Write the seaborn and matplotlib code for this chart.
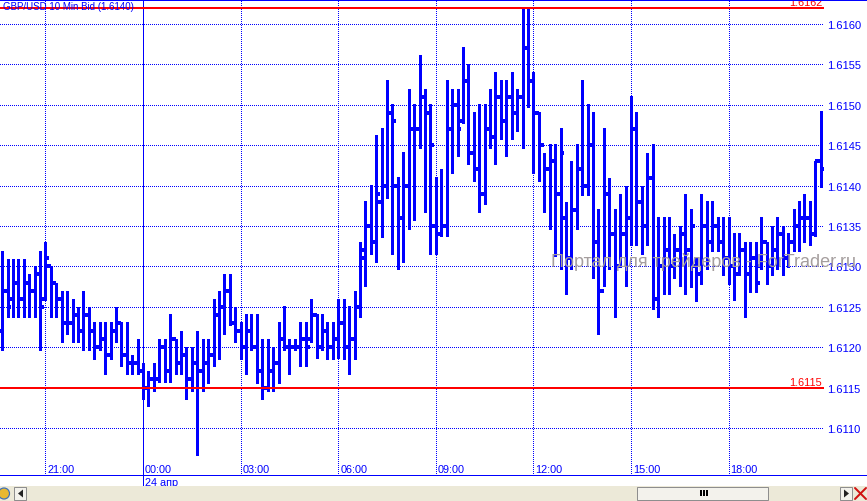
import matplotlib
matplotlib.use("Agg")
import numpy as np
import pandas as pd
import matplotlib.pyplot as plt
import matplotlib.transforms as mtrans
from matplotlib.lines import Line2D
from matplotlib.patches import Rectangle, Polygon
import seaborn as sns

# GBP/USD 10 min bars, 19:40 (23 apr) .. 20:50 (24 apr); prices in pips above 1.6100
base = 1.6100
high = [31.9, 30.9, 30.9, 30.9, 30.9, 29.1, 30.1, 31.9, 33.0, 30.1,
        28.0, 27.0, 27.0, 26.0, 25.0, 27.0, 25.0, 23.1, 23.1, 23.1,
        23.1, 25.0, 23.1, 23.1, 19.0, 21.0, 18.0, 17.1, 18.1, 21.0,
        21.0, 24.1, 21.0, 22.0, 20.0, 20.0, 22.0, 21.0, 21.0, 26.0,
        27.0, 29.1, 29.1, 25.0, 23.1, 24.1, 24.1, 24.1, 21.0, 21.0,
        20.0, 23.1, 25.1, 21.0, 21.0, 23.1, 23.1, 26.0, 24.1, 24.1,
        23.1, 23.1, 26.0, 26.0, 25.1, 27.0, 33.0, 38.1, 40.1, 46.2,
        47.1, 53.1, 50.1, 41.1, 44.1, 52.0, 50.1, 56.2, 52.0, 50.1,
        41.1, 42.1, 53.1, 52.0, 52.0, 57.1, 55.0, 49.1, 50.1, 50.1,
        52.0, 54.0, 53.1, 53.1, 54.0, 52.0, 62.0, 62.0, 54.0, 49.1,
        44.0, 45.1, 45.1, 47.1, 38.0, 43.1, 45.1, 53.1, 50.1, 49.1,
        37.1, 47.1, 41.0, 37.1, 39.0, 40.0, 51.1, 49.1, 40.0, 44.0,
        45.1, 36.1, 36.1, 36.1, 34.0, 35.0, 39.0, 37.1, 31.0, 39.0,
        38.1, 38.1, 36.1, 36.1, 36.1, 34.1, 34.1, 33.0, 33.0, 33.0,
        36.1, 33.0, 35.0, 36.1, 35.0, 34.1, 37.1, 38.1, 39.0, 38.1,
        43.1, 49.2]
low = [19.6, 23.7, 23.7, 23.7, 23.7, 23.7, 23.7, 19.6, 25.8, 23.7,
       23.7, 20.6, 21.6, 20.6, 20.6, 19.6, 19.6, 18.5, 19.6, 16.7,
       18.5, 20.6, 17.7, 16.7, 16.7, 16.7, 13.6, 12.7, 14.6, 15.7,
       15.7, 15.7, 16.7, 16.7, 13.6, 14.6, 6.6, 14.6, 15.6, 17.7,
       18.5, 21.6, 22.7, 20.6, 18.5, 16.7, 19.6, 15.6, 13.6, 14.6,
       14.6, 15.6, 19.6, 16.7, 19.6, 17.7, 17.7, 20.6, 18.7, 19.6,
       18.5, 18.5, 18.7, 18.5, 16.7, 18.5, 23.7, 27.6, 31.5, 30.5,
       33.6, 38.5, 31.5, 29.7, 30.5, 34.6, 35.7, 44.7, 36.7, 31.5,
       31.5, 33.8, 33.8, 41.6, 43.7, 47.8, 42.7, 40.6, 36.7, 37.7,
       44.7, 42.7, 45.8, 43.7, 45.8, 46.8, 44.7, 49.7, 41.6, 40.6,
       36.7, 34.6, 31.3, 29.7, 26.6, 29.7, 34.6, 38.8, 38.8, 28.6,
       21.6, 27.6, 29.7, 23.7, 29.9, 27.6, 32.6, 32.6, 31.5, 32.6,
       24.7, 23.7, 26.6, 26.6, 28.6, 27.6, 26.6, 27.5, 25.7, 27.8,
       29.7, 31.9, 31.9, 28.9, 27.8, 25.8, 28.9, 23.7, 26.8, 26.8,
       29.7, 27.8, 28.9, 29.7, 28.9, 29.9, 31.9, 31.9, 33.0, 32.6,
       33.8, 39.8]
opn = [22, 27, 26, 28, 26, 28, 27, 29, 26, 30,
       28, 26, 23, 23, 24, 22, 24, 22, 20, 21,
       19, 22, 23, 19, 18, 18, 17, 15, 16, 16,
       20, 17, 21, 18, 19, 16, 18, 17, 18, 19,
       24, 25, 27, 23, 22, 20, 22, 20, 17, 15,
       17, 18, 21, 20, 20, 20, 21, 21, 24, 20,
       22, 20, 21, 23, 20, 21, 25, 31, 35, 33,
       38, 40, 49, 40, 36, 40, 47, 47, 51, 49,
       35, 34, 35, 47, 50, 48, 53, 44, 42, 39,
       47, 46, 51, 48, 51, 49, 51, 57, 53, 49,
       45, 42, 43, 39, 36, 31, 37, 42, 40, 45,
       33, 27, 39, 34, 30, 34, 36, 47, 38, 35,
       41, 26, 30, 32, 30, 32, 34, 32, 30, 29,
       35, 33, 35, 33, 31, 30, 29, 32, 29, 31,
       30, 33, 30, 32, 34, 31, 33, 35, 36, 36,
       34, 43]
close = [27, 25, 28, 26, 28, 27, 29, 25, 31, 28,
         26, 23, 23, 24, 22, 24, 22, 20, 21, 19,
         22, 23, 19, 18, 18, 17, 15, 16, 16, 20,
         17, 21, 18, 19, 16, 18, 17, 18, 19, 24,
         25, 27, 23, 22, 20, 22, 20, 17, 15, 17,
         18, 21, 20, 20, 20, 21, 20, 24, 20, 22,
         20, 21, 23, 20, 21, 25, 32, 35, 33, 39,
         40, 49, 48, 36, 40, 47, 47, 51, 49, 45,
         34, 35, 47, 50, 47, 53, 44, 42, 39, 47,
         46, 51, 48, 51, 49, 51, 57, 53, 49, 45,
         42, 43, 39, 44, 31, 37, 42, 40, 45, 33,
         27, 39, 34, 30, 34, 36, 47, 38, 35, 41,
         26, 30, 32, 30, 32, 34, 32, 35, 29, 35,
         33, 35, 33, 31, 30, 29, 32, 29, 31, 28,
         33, 30, 32, 34, 31, 33, 35, 36, 36, 34,
         43, 42]

time_ticks = [8, 26, 44, 62, 80, 98, 116, 134]
time_labels = ["21:00", "00:00", "03:00", "06:00", "09:00", "12:00", "15:00", "18:00"]
day_tick = 26
day_label = "24 апр"
price_ticks = [1.6110, 1.6115, 1.6120, 1.6125, 1.6130, 1.6135, 1.6140, 1.6145,
               1.6150, 1.6155, 1.6160]
levels = [1.6162, 1.6115]
title = "GBP/USD 10 Min Bid (1.6140)"
watermark = "Портал для трейдеров - ForTrader.ru"

df = pd.DataFrame({
    "bar": np.arange(len(high)),
    "open": base + np.array(opn) / 1e4,
    "high": base + np.array(high) / 1e4,
    "low": base + np.array(low) / 1e4,
    "close": base + np.array(close) / 1e4,
})

sns.set_style("white")
plt.rcParams["font.family"] = ["Liberation Sans", "DejaVu Sans"]

BLUE = "#0000FF"
RED = "#FF0000"
PX = 0.72  # one pixel in points at dpi 100
W, H = 867, 502

fig = plt.figure(figsize=(W / 100, H / 100), dpi=100)
fig.patch.set_facecolor("white")
ax = fig.add_axes([0, 26 / H, 824 / W, 475 / H])
ax.set_facecolor("white")
ax.set_xlim(-0.39, 151.6)
ax.set_ylim(1.610418, 1.616297)
for s in ax.spines.values():
    s.set_visible(False)

dotted = (0, (1, 2))
for p in price_ticks:
    ax.axhline(p, color=BLUE, lw=PX, ls=dotted, zorder=1, antialiased=False)
for t in time_ticks:
    if t != day_tick:
        ax.axvline(t, color=BLUE, lw=PX, ls=dotted, zorder=1, antialiased=False)
ax.axvline(151.6, ymin=13 / 475, color=BLUE, lw=PX, ls=dotted, zorder=1,
           antialiased=False)

# day separator, runs into the date label below the axis
ax.axvline(day_tick, color=BLUE, lw=PX, zorder=1, antialiased=False)
bt = mtrans.blended_transform_factory(ax.transData, ax.transAxes)
ax.plot([day_tick, day_tick], [0, -11 / 475], transform=bt, color=BLUE,
        lw=PX, clip_on=False, antialiased=False)

# OHLC bars
ax.vlines(df["bar"], df["low"], df["high"], color=BLUE, lw=3 * PX,
          capstyle="butt", zorder=3, antialiased=False)
ax.hlines(df["open"], df["bar"] - 0.72, df["bar"], color=BLUE, lw=2.5 * PX,
          zorder=3, antialiased=False)
ax.hlines(df["close"], df["bar"], df["bar"] + 0.72, color=BLUE, lw=2.5 * PX,
          zorder=3, antialiased=False)

# levels
for lv in levels:
    ax.axhline(lv, color=RED, lw=2 * PX, zorder=4, antialiased=False)
    ax.annotate(f"{lv:.4f}", xy=(1, lv), xycoords=("axes fraction", "data"),
                xytext=(-2, 1), textcoords="offset pixels", ha="right",
                va="bottom", color=RED, fontsize=7.8, zorder=4)

# price axis on the right
ax.yaxis.tick_right()
ax.set_yticks(price_ticks)
ax.set_yticklabels([f"{p:.4f}" for p in price_ticks])
ax.tick_params(axis="y", length=0, pad=2.2, labelcolor=BLUE, labelsize=8)
ax.set_xticks([])

for t, lab in zip(time_ticks, time_labels):
    ax.annotate(lab, xy=(t, 0), xycoords=bt, xytext=(2, 6),
                textcoords="offset pixels", ha="left", va="center",
                color=BLUE, fontsize=7.8)
ax.annotate(day_label, xy=(day_tick, 0), xycoords=bt, xytext=(2, -7),
            textcoords="offset pixels", ha="left", va="center",
            color=BLUE, fontsize=7.8, annotation_clip=False)

ax.text(551 / W, 1 - 262 / H, watermark, transform=fig.transFigure,
        ha="left", va="center", fontsize=13, color="#A59E9E",
        zorder=5, clip_on=False)

fig.text(3 / W, 1 - 7.5 / H, title, ha="left", va="center", color=BLUE,
         fontsize=7, zorder=1)

# frame lines across the window
fig.add_artist(Line2D([0, 1], [1 - 1 / H, 1 - 1 / H], transform=fig.transFigure,
                      color=BLUE, lw=2 * PX, zorder=6, antialiased=False))
fig.add_artist(Line2D([0, 1], [1 - 476 / H, 1 - 476 / H], transform=fig.transFigure,
                      color=BLUE, lw=PX, antialiased=False))

# scroll bar strip
sb = fig.add_axes([0, 0, 1, 15 / H])
sb.set_xlim(0, W)
sb.set_ylim(0, 15)
sb.axis("off")
sb.add_patch(Rectangle((0, 0), W, 15, facecolor="#ECE9D8", edgecolor="none"))
sb.add_patch(Rectangle((637, 1), 131, 13, facecolor="#F3F2EC", edgecolor="#8E8E8E",
                       lw=PX))
for gx in (700, 703, 706):
    sb.add_patch(Rectangle((gx, 5), 1.6, 6, facecolor="black", edgecolor="none"))
for bx, pts in ((14, [(23, 3.5), (23, 11.5), (18, 7.5)]),
                (840, [(844, 3.5), (844, 11.5), (849, 7.5)])):
    sb.add_patch(Rectangle((bx, 1), 12, 13, facecolor="#F3F2EC", edgecolor="#8E8E8E",
                           lw=PX))
    sb.add_patch(Polygon(pts, closed=True, facecolor="#222222", edgecolor="none"))
sb.add_patch(plt.Circle((4, 7.5), 5.5, facecolor="#E8B830", edgecolor="#3C6FB5",
                        lw=1.2 * PX))
sb.plot([855, 866], [2, 13], color="#D01010", lw=2 * PX)
sb.plot([855, 866], [13, 2], color="#D01010", lw=2 * PX)

fig.savefig("out.png", dpi=100, facecolor="white")
